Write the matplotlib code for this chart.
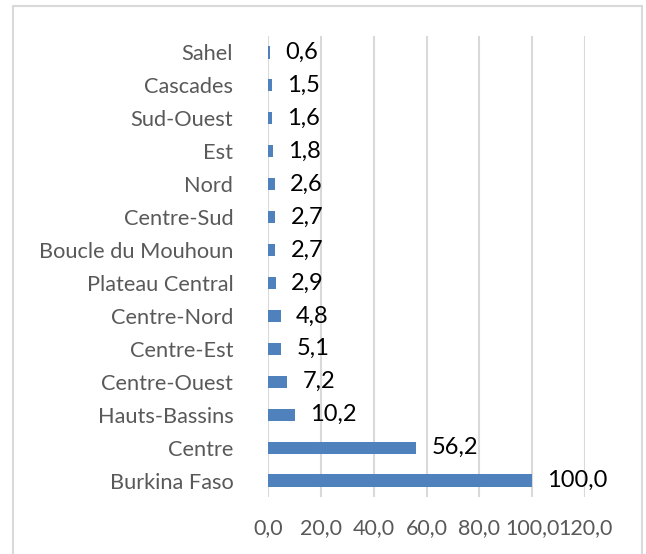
import matplotlib.pyplot as plt
from matplotlib.patches import Rectangle

# Data (bottom to top)
regions = ["Burkina Faso", "Centre", "Hauts-Bassins", "Centre-Ouest", "Centre-Est",
           "Centre-Nord", "Plateau Central", "Boucle du Mouhoun", "Centre-Sud",
           "Nord", "Est", "Sud-Ouest", "Cascades", "Sahel"]
values = [100.0, 56.2, 10.2, 7.2, 5.1, 4.8, 2.9, 2.7, 2.7, 2.6, 1.8, 1.6, 1.5, 0.6]
xticks = [0, 20, 40, 60, 80, 100, 120]

plt.rcParams['font.family'] = ['Lato', 'DejaVu Sans']

fig = plt.figure(figsize=(6.46, 5.54), dpi=100)
ax = fig.add_axes([268/646, 1 - 497/554, 317/646, 461/554])

pos = list(range(len(regions)))
ax.barh(pos, values, height=0.37, color="#4f81bd", zorder=3)

for p, v in zip(pos, values):
    ax.annotate(f"{v:.1f}".replace(".", ","), (v, p), xytext=(11, 0),
                textcoords="offset points", va="center", ha="left",
                fontsize=17, color="black")

ax.set_xlim(0, 120)
ax.set_ylim(-0.5, len(regions) - 0.5)
ax.set_xticks(xticks)
ax.set_xticklabels([f"{t:.1f}".replace(".", ",") for t in xticks])
ax.set_yticks(pos)
ax.set_yticklabels(regions)
ax.tick_params(axis="y", length=0, pad=25, labelsize=15.7, labelcolor="#595959")
ax.tick_params(axis="x", length=0, pad=15, labelsize=15.5, labelcolor="#595959")
ax.grid(axis="x", color="#d9d9d9", linewidth=1.5, zorder=0)
for s in ax.spines.values():
    s.set_visible(False)

# outer chart border
fig.patches.append(Rectangle((13/646, -0.05), 629/646, 1.05 - 6/554,
                             transform=fig.transFigure, fill=False,
                             edgecolor="#d9d9d9", linewidth=1.5))

fig.savefig("out.png", dpi=100)
